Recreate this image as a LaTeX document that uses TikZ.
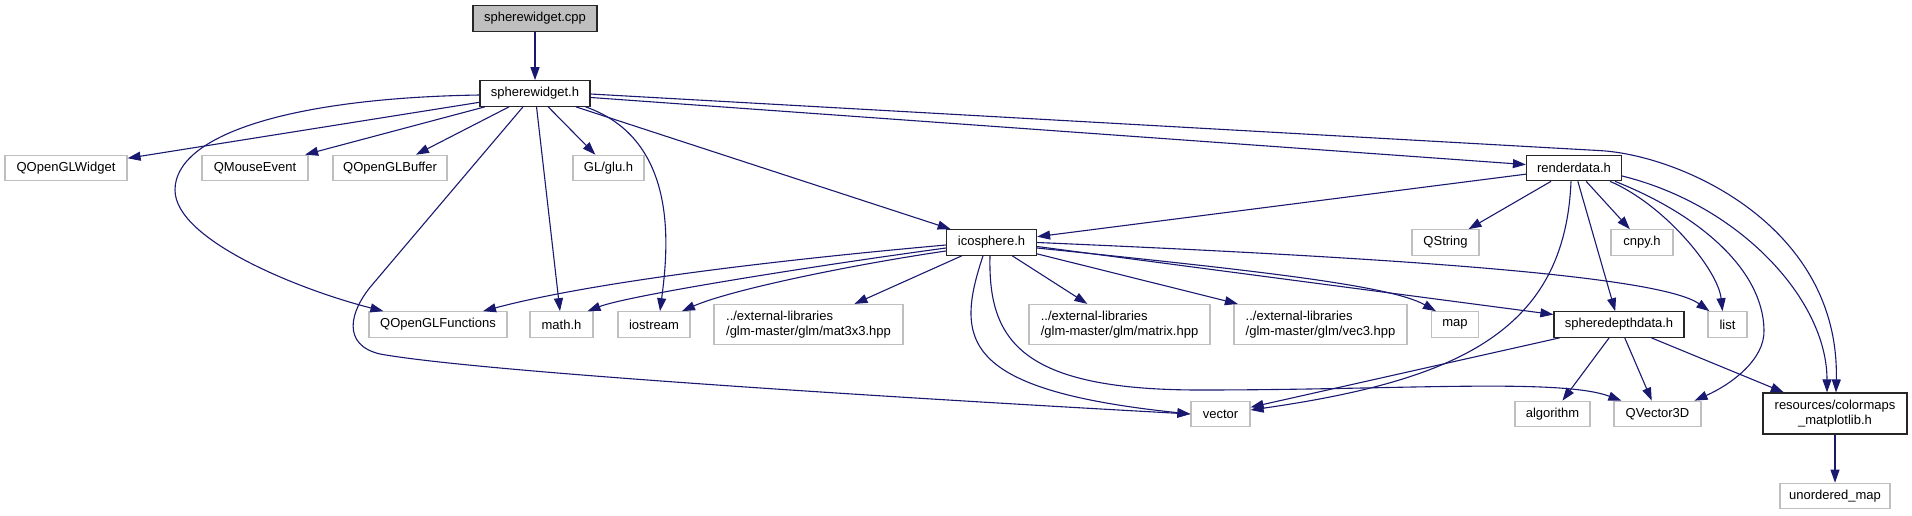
\documentclass[tikz,border=0pt]{standalone}
\usepackage{fontspec}
\setmainfont{Liberation Sans}
\usetikzlibrary{arrows.meta}
\definecolor{edgecol}{HTML}{191970}
\definecolor{graybd}{HTML}{BFBFBF}
\begin{document}
\begin{tikzpicture}[x=1pt,y=-1pt,
  nd/.style={draw=graybd, fill=white, line width=1.2pt, inner sep=0pt, minimum height=25.5pt,
    font=\fontsize{13pt}{14.5pt}\selectfont, anchor=center},
  bnd/.style={nd, draw=black!85},
  tall/.style={minimum height=40pt, align=left},
  edge/.style={draw=edgecol, line width=1.1pt, -{Triangle[length=13pt,width=9pt]}}]
\useasboundingbox (0,0) rectangle (1912,515);
% nodes
\node[bnd, fill=graybd, minimum width=124pt] (cpp) at (535,18.5) {spherewidget.cpp};
\node[bnd, minimum width=110pt] (swh) at (535,93.5) {spherewidget.h};
\node[nd, minimum width=122pt] (qglw) at (66,168) {QOpenGLWidget};
\node[nd, minimum width=106pt] (qme) at (255,168) {QMouseEvent};
\node[nd, minimum width=114pt] (qglb) at (390,168) {QOpenGLBuffer};
\node[nd, minimum width=71pt] (glu) at (608.5,168) {GL/glu.h};
\node[bnd, minimum width=95pt] (rd) at (1574,168) {renderdata.h};
\node[bnd, minimum width=90pt] (ico) at (991.5,242.5) {icosphere.h};
\node[nd, minimum width=67pt] (qstr) at (1445.5,242.5) {QString};
\node[nd, minimum width=62pt] (cnpy) at (1642,242.5) {cnpy.h};
\node[nd, minimum width=138pt] (qglf) at (438,324.5) {QOpenGLFunctions};
\node[nd, minimum width=63pt] (math) at (561.5,324.5) {math.h};
\node[nd, minimum width=72pt] (ios) at (654,324.5) {iostream};
\node[nd, tall, minimum width=189pt] (mat) at (808.5,324.5) {../external-libraries\\/glm-master/glm/mat3x3.hpp};
\node[nd, tall, minimum width=181pt] (matrix) at (1119.5,324.5) {../external-libraries\\/glm-master/glm/matrix.hpp};
\node[nd, tall, minimum width=173pt] (vec3) at (1320.5,324.5) {../external-libraries\\/glm-master/glm/vec3.hpp};
\node[nd, minimum width=47pt] (map) at (1455,324.5) {map};
\node[bnd, minimum width=130pt] (sdd) at (1619,324.5) {spheredepthdata.h};
\node[nd, minimum width=39pt] (list) at (1727.5,324.5) {list};
\node[nd, minimum width=59pt] (vector) at (1220.5,414) {vector};
\node[nd, minimum width=75pt] (algo) at (1552.5,414) {algorithm};
\node[nd, minimum width=87pt] (qv3) at (1657.5,414) {QVector3D};
\node[bnd, minimum width=144pt, minimum height=41pt, align=center] (cmap) at (1835,413.5) {resources/colormaps\\\_matplotlib.h};
\node[nd, minimum width=110pt] (umap) at (1835,496) {unordered\_map};
% edges
\draw[edge] (cpp) -- (swh);
\draw[edge] (swh) -- (qglw);
\draw[edge] (swh) -- (qme);
\draw[edge] (swh) -- (qglb);
\draw[edge] (swh) -- (glu);
\draw[edge] (swh) -- (math);
\draw[edge] (swh) -- (ico);
\draw[edge] (swh) -- (rd);
\draw[edge] ([yshift=-0.5pt]swh.east) -- (1600,150.6) .. controls (1680,155) and (1840,225) .. ([xshift=1pt]cmap.north);
\draw[edge] ([xshift=-5pt]swh.south east) .. controls (680,140) and (668,250) .. ([xshift=6pt]ios.north);
\draw[edge] ([yshift=-1.5pt]swh.west) .. controls (290,98) and (175,135) .. (175,190) .. controls (175,240) and (300,290) .. ([xshift=15pt]qglf.north west);
\draw[edge] ([xshift=-12pt]swh.south) -- (372,285) .. controls (349,312) and (342,345) .. (380,354) .. controls (480,372) and (900,398) .. (vector.west);
\draw[edge] (rd) -- (ico);
\draw[edge] (rd) -- (qstr);
\draw[edge] (rd) -- (cnpy);
\draw[edge] (rd) -- (sdd);
\draw[edge] ([xshift=-3pt]rd.south) .. controls (1565,330) and (1460,380) .. ([yshift=4pt]vector.east);
\draw[edge] ([xshift=36pt]rd.south) .. controls (1665,205) and (1718,270) .. ([xshift=-5pt]list.north);
\draw[edge] ([xshift=41pt]rd.south) .. controls (1700,215) and (1763,270) .. (1764,330) .. controls (1765,360) and (1730,385) .. ([xshift=37pt]qv3.north);
\draw[edge] ([yshift=-8pt]rd.east) .. controls (1740,205) and (1827,300) .. ([xshift=-8pt]cmap.north);
\draw[edge] (sdd) -- (vector);
\draw[edge] (sdd) -- (algo);
\draw[edge] (sdd) -- (qv3);
\draw[edge] (sdd) -- (cmap);
\draw[edge] (cmap) -- (umap);
\draw[edge] ([yshift=-2.5pt]ico.west) .. controls (800,258) and (600,280) .. ([xshift=45pt]qglf.north);
\draw[edge] ([yshift=-5.5pt]ico.west) .. controls (820,265) and (630,295) .. ([xshift=26pt]math.north);
\draw[edge] ([yshift=-8.5pt]ico.west) .. controls (850,265) and (730,290) .. ([xshift=28pt]ios.north);
\draw[edge] (ico) -- (mat);
\draw[edge] (ico) -- (matrix);
\draw[edge] (ico) -- (vec3);
\draw[edge] ([yshift=-5.5pt]ico.east) .. controls (1250,270) and (1390,285) .. ([xshift=5pt]map.north west);
\draw[edge] ([yshift=-4pt]ico.east) -- ([yshift=10pt]sdd.west);
\draw[edge] (ico.east) .. controls (1400,258) and (1660,276) .. ([xshift=2pt]list.north west);
\draw[edge] ([xshift=-8.5pt]ico.south) .. controls (955,340) and (960,390) .. (vector.west);
\draw[edge] ([xshift=-1.5pt]ico.south) .. controls (988,340) and (1020,390) .. (1200,390) .. controls (1400,390) and (1560,378) .. ([xshift=8pt]qv3.north west);
\end{tikzpicture}
\end{document}
